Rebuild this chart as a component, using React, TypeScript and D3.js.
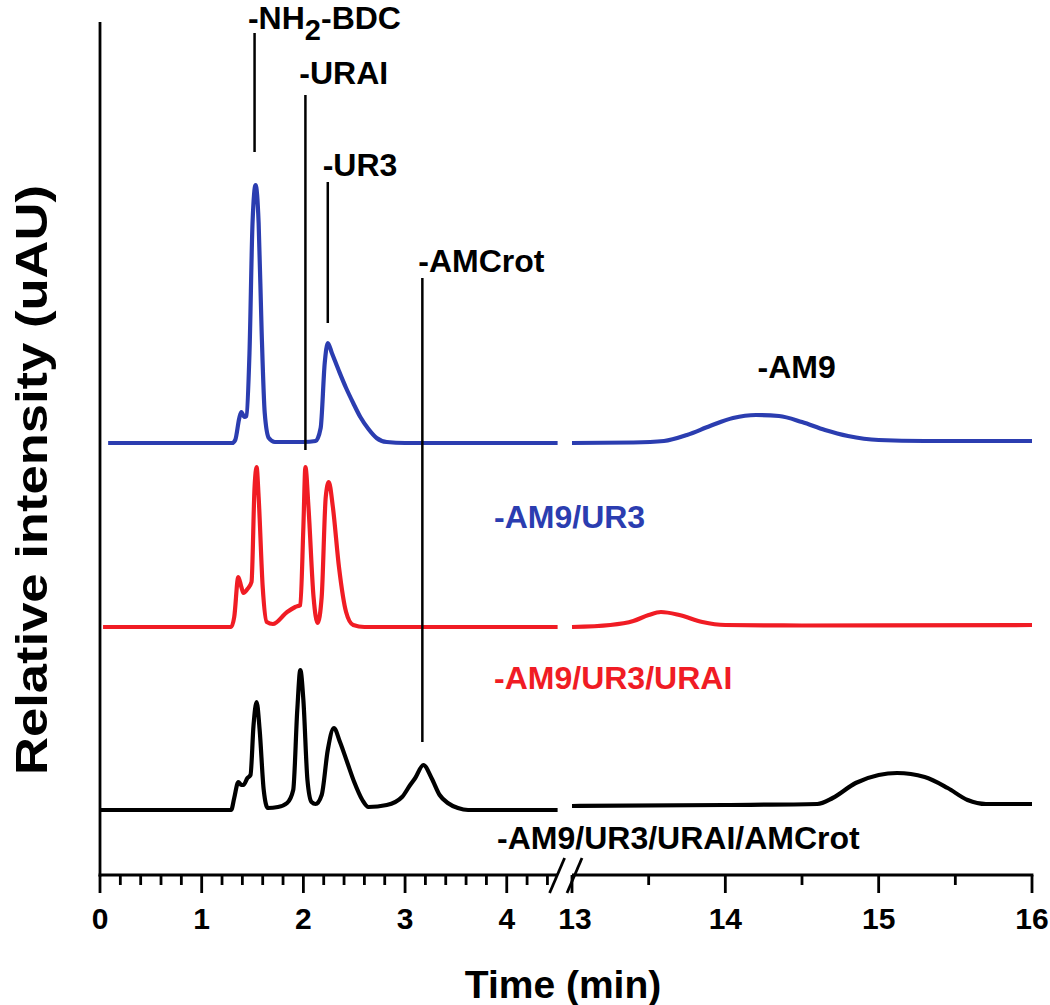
import React from "react";
import * as d3 from "d3";

// ---- data (time in min, intensity in uAU relative to each trace's baseline) ----
const blueLeft: [number, number][] = [
  [0.08, 0], [1.3, 0], [1.33, 3], [1.37, 25], [1.39, 31], [1.42, 26], [1.44, 27], [1.47, 90],
  [1.5, 220], [1.53, 258], [1.56, 220], [1.59, 110], [1.62, 30], [1.66, 5], [1.72, 1],
  [2.0, 1], [2.12, 2], [2.17, 15], [2.21, 80], [2.24, 100], [2.28, 90], [2.35, 72],
  [2.42, 55], [2.49, 40], [2.56, 26], [2.64, 14], [2.72, 5], [2.82, 1], [3.0, 0], [4.5, 0],
];
const blueRight: [number, number][] = [
  [13, 0], [13.4, 0.5], [13.6, 2], [13.75, 8], [13.9, 17], [14.05, 25], [14.2, 28], [14.35, 27],
  [14.5, 21], [14.65, 13], [14.8, 7], [15.0, 3], [15.3, 2], [16, 2],
];
const redLeft: [number, number][] = [
  [0.03, 0], [1.29, 0], [1.32, 10], [1.36, 50], [1.39, 40], [1.41, 34], [1.45, 38], [1.49, 45],
  [1.52, 140], [1.54, 160], [1.56, 130], [1.6, 40], [1.64, 5], [1.7, 3], [1.84, 15], [1.92, 20],
  [1.97, 22], [2.0, 100], [2.02, 160], [2.05, 120], [2.1, 30], [2.14, 4], [2.18, 30], [2.22, 130],
  [2.25, 145], [2.29, 120], [2.35, 60], [2.42, 15], [2.49, 2], [2.6, 0], [4.5, 0],
];
const redRight: [number, number][] = [
  [13, 0], [13.25, 2], [13.4, 6], [13.5, 12], [13.58, 15], [13.7, 12], [13.85, 5], [14.0, 2],
  [14.5, 1.5], [16, 2],
];
const blackLeft: [number, number][] = [
  [0.0, 0], [1.29, 0], [1.32, 12], [1.36, 28], [1.39, 25], [1.41, 25], [1.45, 32], [1.48, 35],
  [1.51, 85], [1.54, 108], [1.57, 80], [1.61, 20], [1.65, 2], [1.75, 3], [1.84, 7], [1.9, 20],
  [1.94, 100], [1.97, 140], [2.0, 110], [2.04, 30], [2.08, 8], [2.12, 6], [2.18, 15], [2.24, 60],
  [2.3, 82], [2.36, 68], [2.43, 48], [2.5, 28], [2.58, 10], [2.64, 3], [2.82, 5], [2.97, 13],
  [3.05, 25], [3.1, 32], [3.18, 45], [3.26, 32], [3.34, 15], [3.42, 7], [3.52, 2], [3.62, 0], [4.5, 0],
];
const blackRight: [number, number][] = [
  [13, 4], [14.0, 5], [14.6, 6], [14.7, 12], [14.85, 27], [15.0, 35], [15.12, 37], [15.3, 33],
  [15.45, 22], [15.58, 10], [15.7, 6], [16, 6],
];

const traceOffsets = [432, 248, 65]; // blue, red, black baselines (uAU)
const traceColors = ["#2b3db0", "#f01c24", "#000000"];

const leftTicks = [0, 1, 2, 3, 4];
const rightTicks = [13, 14, 15, 16];
const leftMinor = d3.range(0.2, 4.5, 0.2).filter((t) => Math.abs(t - Math.round(t)) > 0.01);
const rightMinor = [13.5, 14.5, 15.5];

// annotation markers: [time, fromValue, toValue]
const markerLines: [number, number, number][] = [
  [1.52, 842, 723],
  [2.02, 780, 425],
  [2.24, 693, 552],
  [3.17, 597, 133],
];
// labels: [text, time, value]
const peakLabels: [string, number, number][] = [
  ["-URAI", 1.96, 791],
  ["-UR3", 2.19, 699],
  ["-AMCrot", 3.13, 603],
];

export default function App() {
  const W = 1050, H = 1005;
  const xL = d3.scaleLinear().domain([0, 4.5]).range([100, 557.6]);
  const xR = d3.scaleLinear().domain([13, 16]).range([572, 1032]);
  const y = d3.scaleLinear().domain([0, 850]).range([875, 25]);
  const font = "'Liberation Sans', Arial, Helvetica, sans-serif";
  const fs = 32;

  const mk = (xs: d3.ScaleLinear<number, number>, off: number) =>
    d3.line<[number, number]>()
      .x((d) => xs(d[0]))
      .y((d) => y(d[1] + off))
      .curve(d3.curveMonotoneX);

  const series: [[number, number][], [number, number][]][] = [
    [blueLeft, blueRight],
    [redLeft, redRight],
    [blackLeft, blackRight],
  ];

  const axisY = y(0);

  return (
    <svg width={W} height={H} style={{ position: "absolute", left: 0, top: 0, background: "#fff" }}
      fontFamily={font} fontWeight="bold">
      {/* traces */}
      {series.map(([l, r], i) => (
        <g key={i} fill="none" stroke={traceColors[i]} strokeWidth={4.2} strokeLinejoin="round">
          <path d={mk(xL, traceOffsets[i])(l) || ""} />
          <path d={mk(xR, traceOffsets[i])(r) || ""} />
        </g>
      ))}

      {/* marker lines */}
      {markerLines.map(([t, a, b], i) => (
        <line key={i} x1={xL(t)} x2={xL(t)} y1={y(a)} y2={y(b)} stroke="#000" strokeWidth={2.5} />
      ))}

      {/* labels */}
      <text x={xL(1.455)} y={y(846)} fontSize={32} fill="#000">
        -NH<tspan fontSize={29} dy={11}>2</tspan><tspan dy={-11} fontSize={32}>-BDC</tspan>
      </text>
      {peakLabels.map(([s, t, v], i) => (
        <text key={i} x={xL(t)} y={y(v)} fontSize={fs} fill="#000">{s}</text>
      ))}
      <text x={xR(14.21)} y={y(497)} fontSize={fs} fill="#000">-AM9</text>
      <text x={xL(3.875)} y={y(347)} fontSize={fs} fill={traceColors[0]}>-AM9/UR3</text>
      <text x={xL(3.875)} y={y(186)} fontSize={fs} fill={traceColors[1]}>-AM9/UR3/URAI</text>
      <text x={xL(3.905)} y={y(26)} fontSize={fs} fill="#000">-AM9/UR3/URAI/AMCrot</text>

      {/* axes */}
      <g stroke="#000" strokeWidth={2.8} fill="none">
        <line x1={100} x2={100} y1={22} y2={axisY + 1.4} />
        <line x1={xL(0) - 1.4} x2={xL(4.5)} y1={axisY} y2={axisY} />
        <line x1={xR(13)} x2={xR(16) + 1.4} y1={axisY} y2={axisY} />
        {leftTicks.map((t) => <line key={"lt" + t} x1={xL(t)} x2={xL(t)} y1={axisY} y2={axisY + 18} />)}
        {rightTicks.map((t) => <line key={"rt" + t} x1={xR(t)} x2={xR(t)} y1={axisY} y2={axisY + 18} />)}
        {leftMinor.map((t) => <line key={"lm" + t} x1={xL(t)} x2={xL(t)} y1={axisY} y2={axisY + 10} />)}
        {rightMinor.map((t) => <line key={"rm" + t} x1={xR(t)} x2={xR(t)} y1={axisY} y2={axisY + 10} />)}
        <line x1={xL(4.5) - 8} y1={axisY + 18} x2={xL(4.5) + 7} y2={axisY - 17} />
        <line x1={xR(13) - 5} y1={axisY + 18} x2={xR(13) + 10} y2={axisY - 17} />
      </g>
      {leftTicks.map((t) => (
        <text key={"ll" + t} x={xL(t)} y={929} fontSize={30} textAnchor="middle">{t}</text>
      ))}
      {rightTicks.map((t) => (
        <text key={"rl" + t} x={xR(t) + (t === 13 ? 3 : 0)} y={929} fontSize={30} textAnchor="middle">{t}</text>
      ))}
      <text x={563} y={998} fontSize={39} textAnchor="middle">Time (min)</text>
      <text transform={`translate(47,${480}) rotate(-90)`} fontSize={44} textAnchor="middle"
        textLength={590} lengthAdjust="spacingAndGlyphs">Relative intensity (uAU)</text>
    </svg>
  );
}
